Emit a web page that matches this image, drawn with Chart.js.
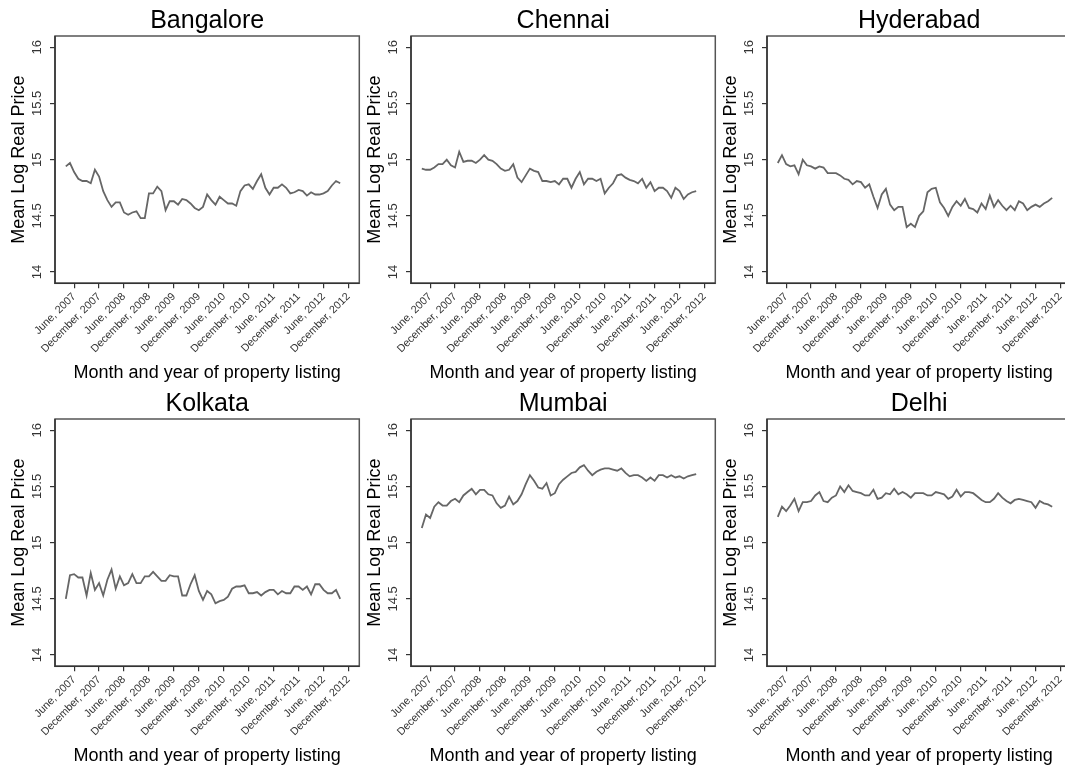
<!DOCTYPE html>
<html>
<head>
<meta charset="utf-8">
<script src="https://cdn.jsdelivr.net/npm/chart.js@4.4.1/dist/chart.umd.min.js"></script>
<style>
  html, body { margin: 0; padding: 0; background: #fff; overflow: hidden; width: 1065px; height: 769px; }
  canvas { position: absolute; }
</style>
</head>
<body>
<script>
// month of each observation (April 2007 .. October 2012)
const months = [
  '2007-04', '2007-05', '2007-06', '2007-07', '2007-08', '2007-09', '2007-10', '2007-11', '2007-12',
  '2008-01', '2008-02', '2008-03', '2008-04', '2008-05', '2008-06', '2008-07', '2008-08', '2008-09', '2008-10', '2008-11', '2008-12',
  '2009-01', '2009-02', '2009-03', '2009-04', '2009-05', '2009-06', '2009-07', '2009-08', '2009-09', '2009-10', '2009-11', '2009-12',
  '2010-01', '2010-02', '2010-03', '2010-04', '2010-05', '2010-06', '2010-07', '2010-08', '2010-09', '2010-10', '2010-11', '2010-12',
  '2011-01', '2011-02', '2011-03', '2011-04', '2011-05', '2011-06', '2011-07', '2011-08', '2011-09', '2011-10', '2011-11', '2011-12',
  '2012-01', '2012-02', '2012-03', '2012-04', '2012-05', '2012-06', '2012-07', '2012-08', '2012-09', '2012-10'
]

const bangalore = [
  14.94, 14.97, 14.89, 14.83, 14.81, 14.81, 14.79, 14.91, 14.85, 14.72,
  14.64, 14.58, 14.62, 14.62, 14.53, 14.51, 14.53, 14.54, 14.48, 14.48,
  14.70, 14.70, 14.76, 14.72, 14.55, 14.63, 14.63, 14.60, 14.65, 14.64,
  14.61, 14.57, 14.55, 14.58, 14.69, 14.64, 14.60, 14.67, 14.64, 14.61,
  14.61, 14.59, 14.72, 14.77, 14.78, 14.74, 14.81, 14.87, 14.75, 14.69,
  14.75, 14.75, 14.78, 14.75, 14.70, 14.71, 14.73, 14.72, 14.68, 14.71,
  14.69, 14.69, 14.70, 14.72, 14.77, 14.81, 14.79
]
const chennai = [
  14.92, 14.91, 14.91, 14.93, 14.96, 14.96, 15.00, 14.95, 14.93, 15.07,
  14.98, 14.99, 14.99, 14.97, 15.00, 15.04, 15.00, 14.99, 14.96, 14.92,
  14.90, 14.91, 14.96, 14.84, 14.80, 14.86, 14.92, 14.90, 14.89, 14.81,
  14.81, 14.80, 14.81, 14.78, 14.83, 14.83, 14.75, 14.83, 14.89, 14.78,
  14.83, 14.83, 14.81, 14.83, 14.70, 14.75, 14.79, 14.86, 14.87, 14.84,
  14.82, 14.81, 14.79, 14.83, 14.75, 14.80, 14.72, 14.75, 14.75, 14.72,
  14.66, 14.75, 14.72, 14.65, 14.69, 14.71, 14.72
]
const hyderabad = [
  14.97, 15.04, 14.96, 14.94, 14.95, 14.87, 15.00, 14.95, 14.94, 14.92,
  14.94, 14.93, 14.88, 14.88, 14.88, 14.86, 14.83, 14.82, 14.78, 14.81,
  14.80, 14.75, 14.78, 14.67, 14.57, 14.69, 14.74, 14.60, 14.55, 14.58,
  14.58, 14.40, 14.43, 14.40, 14.50, 14.54, 14.71, 14.74, 14.75, 14.62,
  14.57, 14.50, 14.58, 14.63, 14.59, 14.65, 14.57, 14.56, 14.53, 14.61,
  14.56, 14.68, 14.58, 14.64, 14.59, 14.55, 14.59, 14.55, 14.63, 14.61,
  14.55, 14.58, 14.60, 14.58, 14.61, 14.63, 14.66
]
const kolkata = [
  14.50, 14.71, 14.72, 14.69, 14.69, 14.53, 14.73, 14.58, 14.64, 14.53,
  14.67, 14.76, 14.59, 14.70, 14.62, 14.64, 14.72, 14.64, 14.64, 14.70,
  14.70, 14.74, 14.70, 14.66, 14.66, 14.71, 14.70, 14.70, 14.53, 14.53,
  14.63, 14.71, 14.57, 14.49, 14.57, 14.54, 14.46, 14.48, 14.49, 14.52,
  14.59, 14.61, 14.61, 14.62, 14.55, 14.55, 14.56, 14.53, 14.56, 14.58,
  14.58, 14.54, 14.57, 14.55, 14.55, 14.61, 14.61, 14.58, 14.61, 14.54,
  14.63, 14.63, 14.58, 14.55, 14.55, 14.58, 14.50
]
const mumbai = [
  15.13, 15.25, 15.22, 15.32, 15.36, 15.33, 15.33, 15.37, 15.39, 15.36,
  15.42, 15.45, 15.48, 15.43, 15.47, 15.47, 15.43, 15.42, 15.35, 15.31,
  15.33, 15.41, 15.34, 15.37, 15.43, 15.52, 15.60, 15.55, 15.49, 15.48,
  15.53, 15.42, 15.44, 15.52, 15.56, 15.59, 15.62, 15.63, 15.67, 15.69,
  15.64, 15.60, 15.63, 15.65, 15.66, 15.66, 15.65, 15.64, 15.66, 15.62,
  15.59, 15.60, 15.60, 15.58, 15.55, 15.58, 15.55, 15.60, 15.60, 15.58,
  15.60, 15.58, 15.59, 15.57, 15.59, 15.60, 15.61
]
const delhi = [
  15.23, 15.32, 15.28, 15.33, 15.39, 15.28, 15.36, 15.36, 15.37, 15.42,
  15.45, 15.37, 15.36, 15.40, 15.42, 15.50, 15.45, 15.51, 15.46, 15.45,
  15.44, 15.42, 15.42, 15.47, 15.39, 15.40, 15.44, 15.43, 15.48, 15.43,
  15.45, 15.43, 15.40, 15.44, 15.44, 15.44, 15.42, 15.42, 15.45, 15.44,
  15.43, 15.39, 15.41, 15.47, 15.41, 15.45, 15.45, 15.44, 15.41, 15.38,
  15.36, 15.36, 15.39, 15.44, 15.40, 15.37, 15.35, 15.38, 15.39, 15.38,
  15.37, 15.36, 15.31, 15.37, 15.35, 15.34, 15.32
]

const cities = ['Bangalore', 'Chennai', 'Hyderabad', 'Kolkata', 'Mumbai', 'Delhi']
const series = [bangalore, chennai, hyderabad, kolkata, mumbai, delhi]

const tickMonths = ['2007-06', '2007-12', '2008-06', '2008-12', '2009-06', '2009-12',
  '2010-06', '2010-12', '2011-06', '2011-12', '2012-06', '2012-12']
const tickLabels = ['June, 2007', 'December, 2007', 'June, 2008', 'December, 2008', 'June, 2009', 'December, 2009',
  'June, 2010', 'December, 2010', 'June, 2011', 'December, 2011', 'June, 2012', 'December, 2012']
const yTicks = [14, 14.5, 15, 15.5, 16]
const yTickLabels = ['14', '14.5', '15', '15.5', '16']

const FONT = "'Liberation Sans', Arial, sans-serif"
const colLeft = [0, 356, 711.5]
const rowTop = [0, 383.3]

// months since January 2007
const toMonth = s => {
  const [y, m] = s.split('-').map(Number)
  return (y - 2007) * 12 + (m - 1)
}

// Stata-like box round the plot plus the panel title
const boxPlugin = {
  id: 'box',
  afterDraw(chart, args, opts) {
    const { ctx, chartArea: a } = chart
    ctx.save()
    ctx.strokeStyle = '#555'
    ctx.lineWidth = 1.5
    ctx.strokeRect(a.left, a.top, a.right - a.left, a.bottom - a.top)
    ctx.strokeStyle = '#333'
    ctx.beginPath()
    ctx.moveTo(a.left, a.top)
    ctx.lineTo(a.left, a.bottom)
    ctx.lineTo(a.right, a.bottom)
    ctx.stroke()
    ctx.font = '25px ' + FONT
    ctx.fillStyle = '#000'
    ctx.textAlign = 'center'
    ctx.textBaseline = 'alphabetic'
    ctx.fillText(opts.text, (a.left + a.right) / 2, 27.5)
    ctx.restore()
  }
}

cities.forEach((city, i) => {
  const canvas = document.createElement('canvas')
  canvas.width = 370
  canvas.height = 384
  canvas.style.left = colLeft[i % 3] + 'px'
  canvas.style.top = rowTop[Math.floor(i / 3)] + 'px'
  document.body.appendChild(canvas)

  new Chart(canvas.getContext('2d'), {
    type: 'line',
    data: {
      datasets: [{
        data: months.map((m, k) => ({ x: toMonth(m), y: series[i][k] })),
        borderColor: '#666',
        borderWidth: 1.8,
        pointRadius: 0,
        tension: 0,
        fill: false
      }]
    },
    options: {
      responsive: false,
      animation: false,
      devicePixelRatio: 1,
      layout: { padding: { left: 0, right: 10.7, top: 36, bottom: 0 } },
      plugins: {
        legend: { display: false },
        tooltip: { enabled: false },
        box: { text: city }
      },
      scales: {
        x: {
          type: 'linear',
          min: 0.4,
          max: 73.6,
          afterFit: s => { s.height = 100.7 },
          afterBuildTicks: s => { s.ticks = tickMonths.map(m => ({ value: toMonth(m) })) },
          grid: { drawOnChartArea: false, drawTicks: true, tickLength: 5, color: '#333', lineWidth: 1.2 },
          border: { display: false },
          ticks: {
            autoSkip: false,
            minRotation: 45,
            maxRotation: 45,
            padding: 2,
            color: '#333',
            font: { family: FONT, size: 10.8 },
            callback: (v, k) => tickLabels[k]
          },
          title: {
            display: true,
            text: 'Month and year of property listing',
            color: '#000',
            font: { family: FONT, size: 18 },
            padding: { top: 0, bottom: 0 }
          }
        },
        y: {
          min: 13.9,
          max: 16.1,
          afterFit: s => { s.width = 55 },
          afterBuildTicks: s => { s.ticks = yTicks.map(v => ({ value: v })) },
          grid: { drawOnChartArea: false, drawTicks: true, tickLength: 5, color: '#333', lineWidth: 1.2 },
          border: { display: false },
          ticks: {
            minRotation: 90,
            maxRotation: 90,
            crossAlign: 'center',
            padding: 0,
            color: '#333',
            font: { family: FONT, size: 13 },
            callback: (v, k) => yTickLabels[k]
          },
          title: {
            display: true,
            text: 'Mean Log Real Price',
            color: '#000',
            font: { family: FONT, size: 18 },
            padding: { top: 8, bottom: 0 }
          }
        }
      }
    },
    plugins: [boxPlugin]
  })
})
</script>
</body>
</html>
